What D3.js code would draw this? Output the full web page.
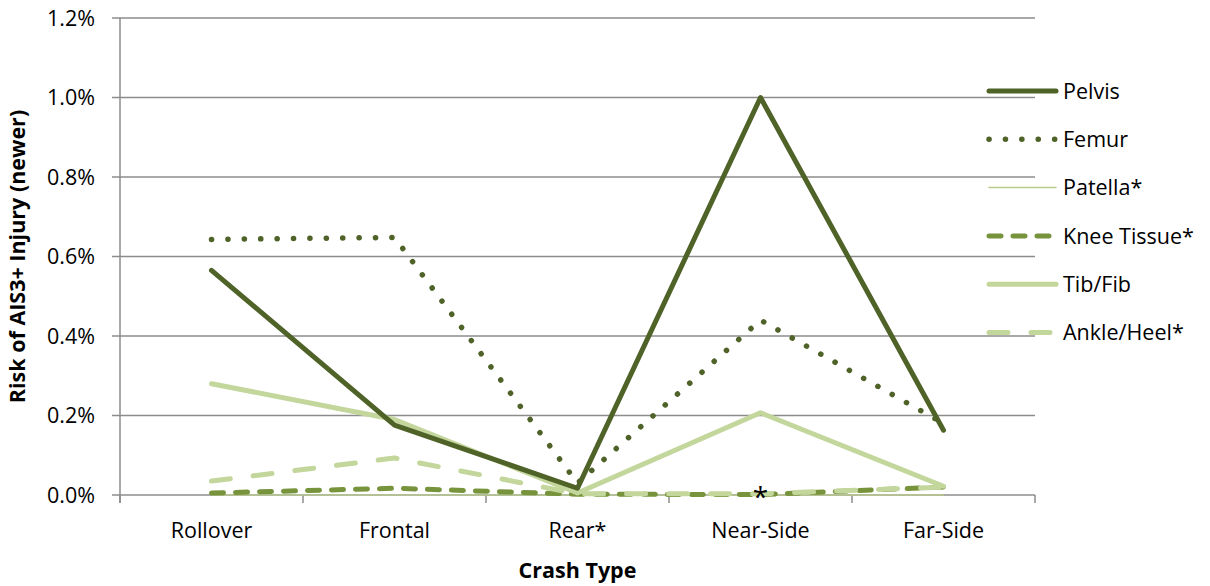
<!DOCTYPE html>
<html lang="en">
  <head>
    <meta charset="utf-8" />
    <title>Risk of AIS3+ Injury by Crash Type</title>
    <script src="https://cdn.jsdelivr.net/npm/d3@7"></script>
    <style>
      body { margin: 0; background: #fff; }
      text { font-family: "Open Sans", sans-serif; fill: #000; }
    </style>
  </head>
  <body>
    <div id="chart"></div>
    <script type="text/javascript">
      // crash types along the x axis
      const crashTypes = ["Rollover", "Frontal", "Rear*", "Near-Side", "Far-Side"];
      const yTicks = [0, 0.002, 0.004, 0.006, 0.008, 0.010, 0.012];

      // risk values (fraction), one array per body region
      const pelvis = [0.00565, 0.00176, 0.00017, 0.0100, 0.00163];
      const femur = [0.00643, 0.00648, 0.00030, 0.00440, 0.00180];
      const patella = [0.0, 0.0, 0.0, 0.0, 0.0];
      const kneeTissue = [0.00005, 0.00017, 0.00002, 0.00001, 0.00020];
      const tibFib = [0.00280, 0.00190, 0.00005, 0.00207, 0.00022];
      const ankleHeel = [0.00035, 0.00093, 0.00003, 0.00003, 0.00020];

      const seriesNames = ["Pelvis", "Femur", "Patella*", "Knee Tissue*", "Tib/Fib", "Ankle/Heel*"];
      const seriesValues = [pelvis, femur, patella, kneeTissue, tibFib, ankleHeel];
      const styles = [
        { color: "#4F6228", width: 5, dash: null },
        { color: "#4F6228", width: 5.5, dash: "0.1 16.3" },
        { color: "#B9C98F", width: 1.5, dash: null },
        { color: "#77933C", width: 5, dash: "12 12" },
        { color: "#C3D69B", width: 5, dash: null },
        { color: "#C3D69B", width: 5, dash: "19 23" }
      ];

      const width = 1210, height = 586;
      const margin = { left: 120, right: 175, top: 18, bottom: 91 };
      const fontSize = "21.5px";

      const svg = d3.select("#chart").append("svg")
        .attr("width", width).attr("height", height);

      const x = d3.scaleBand()
        .domain(crashTypes)
        .range([margin.left, width - margin.right]);
      const y = d3.scaleLinear()
        .domain([0, 0.012])
        .range([height - margin.bottom, margin.top]);

      // gridlines
      svg.append("g")
        .selectAll("line")
        .data(yTicks)
        .join("line")
        .attr("x1", margin.left - 8)
        .attr("x2", width - margin.right)
        .attr("y1", d => y(d))
        .attr("y2", d => y(d))
        .attr("stroke", "#8c8c8c")
        .attr("stroke-width", 1.5);

      // y axis line
      svg.append("line")
        .attr("x1", margin.left).attr("x2", margin.left)
        .attr("y1", y(0.012)).attr("y2", y(0) + 8)
        .attr("stroke", "#8c8c8c").attr("stroke-width", 1.5);

      // x tick marks at the band edges
      const edges = crashTypes.map(c => x(c)).concat([x.range()[1]]);
      svg.append("g")
        .selectAll("line")
        .data(edges)
        .join("line")
        .attr("x1", d => d).attr("x2", d => d)
        .attr("y1", y(0)).attr("y2", y(0) + 8)
        .attr("stroke", "#8c8c8c").attr("stroke-width", 1.5);

      // y tick labels
      svg.append("g")
        .selectAll("text")
        .data(yTicks)
        .join("text")
        .attr("x", margin.left - 25)
        .attr("y", d => y(d))
        .attr("dy", "0.36em")
        .attr("text-anchor", "end")
        .attr("font-size", fontSize)
        .text(d => (d * 100).toFixed(1) + "%");

      // x tick labels
      svg.append("g")
        .selectAll("text")
        .data(crashTypes)
        .join("text")
        .attr("x", d => x(d) + x.bandwidth() / 2)
        .attr("y", y(0) + 43)
        .attr("text-anchor", "middle")
        .attr("font-size", fontSize)
        .text(d => d);

      // axis titles
      svg.append("text")
        .attr("x", (margin.left + width - margin.right) / 2)
        .attr("y", 578)
        .attr("text-anchor", "middle")
        .attr("font-size", fontSize)
        .attr("font-weight", "bold")
        .text("Crash Type");
      svg.append("text")
        .attr("transform", `translate(25,${(y(0) + y(0.012)) / 2}) rotate(-90)`)
        .attr("text-anchor", "middle")
        .attr("font-size", fontSize)
        .attr("font-weight", "bold")
        .text("Risk of AIS3+ Injury (newer)");

      // series lines
      const line = d3.line()
        .x((d, i) => x(crashTypes[i]) + x.bandwidth() / 2)
        .y(d => y(d));

      const drawOrder = [2, 3, 5, 4, 1, 0];
      drawOrder.forEach(i => {
        const s = styles[i];
        svg.append("path")
          .datum(seriesValues[i])
          .attr("d", line)
          .attr("fill", "none")
          .attr("stroke", s.color)
          .attr("stroke-width", s.width)
          .attr("stroke-linecap", "round")
          .attr("stroke-linejoin", "round")
          .attr("stroke-dasharray", s.dash);
      });

      // significance marker at Near-Side
      svg.append("text")
        .attr("x", x("Near-Side") + x.bandwidth() / 2)
        .attr("y", y(0) + 12)
        .attr("text-anchor", "middle")
        .attr("font-size", "28px")
        .text("*");

      // legend
      const legend = svg.append("g");
      seriesNames.forEach((name, i) => {
        const s = styles[i];
        const ly = 91 + i * 48.3;
        legend.append("line")
          .attr("x1", 989).attr("x2", 1056)
          .attr("y1", ly).attr("y2", ly)
          .attr("stroke", s.color)
          .attr("stroke-width", s.width)
          .attr("stroke-linecap", "round")
          .attr("stroke-dasharray", s.dash);
        legend.append("text")
          .attr("x", 1063)
          .attr("y", ly)
          .attr("dy", "0.36em")
          .attr("font-size", fontSize)
          .text(name);
      });
    </script>
  </body>
</html>
